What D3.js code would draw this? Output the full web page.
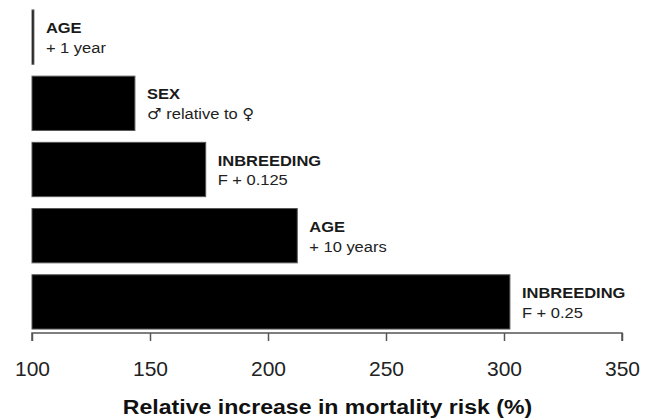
<!DOCTYPE html>
<html>
<head>
<meta charset="utf-8">
<script src="https://cdn.jsdelivr.net/npm/d3@7"></script>
<style>
  html, body { margin: 0; padding: 0; background: #fff; }
  text { font-family: "Liberation Sans", Arial, Helvetica, sans-serif; }
</style>
</head>
<body>
<svg id="chart" width="654" height="418"></svg>
<script>
// ---- data ----
const categories = ["AGE", "SEX", "INBREEDING", "AGE", "INBREEDING"];
const subLabels = ["+ 1 year", "\u2642 relative to \u2640", "F + 0.125", "+ 10 years", "F + 0.25"];
const values = [100.8, 143.6, 173.6, 212.4, 302.5];
const tickValues = [100, 150, 200, 250, 300, 350];
const axisTitle = "Relative increase in mortality risk (%)";

const svg = d3.select("#chart");
const x = d3.scaleLinear().domain([100, 350]).range([32, 622]);
const y = d3.scaleBand().domain(d3.range(categories.length)).range([4, 335])
  .paddingInner(0.18).paddingOuter(0.09);

const rows = categories.map((c, i) => ({ cat: c, sub: subLabels[i], v: values[i], i }));

svg.append("g").selectAll("rect").data(rows).join("rect")
  .attr("x", x(100))
  .attr("y", d => y(d.i))
  .attr("width", d => x(d.v) - x(100))
  .attr("height", y.bandwidth())
  .attr("fill", "#000")
  .attr("stroke", "#555")
  .attr("stroke-width", 1);

const lab = svg.append("g").selectAll("g").data(rows).join("g")
  .attr("transform", d => `translate(${x(d.v) + 12},${y(d.i) + y.bandwidth() / 2}) scale(1.1,1)`);
lab.append("text").attr("y", -4).attr("font-size", 15).attr("font-weight", "bold")
  .attr("fill", "#1a1a1a").text(d => d.cat);
const sub = lab.append("text").attr("y", 16).attr("font-size", 15).attr("fill", "#222");
sub.each(function(d) {
  const t = d3.select(this);
  // render gender symbols in a font with larger glyphs
  d.sub.split(/([\u2640\u2642])/).filter(s => s.length).forEach(part => {
    const sp = t.append("tspan").text(part);
    if (/[\u2640\u2642]/.test(part)) sp.attr("font-family", "DejaVu Sans").attr("font-size", 15);
  });
});

const axis = d3.axisBottom(x).tickValues(tickValues).tickSize(8).tickPadding(20)
  .tickFormat(d3.format("d"));
const gx = svg.append("g").attr("transform", "translate(0,333)").call(axis);
gx.select(".domain").attr("stroke", "#555").attr("stroke-width", 1.5)
  .attr("d", `M${x(100)},8V0H${x(350)}V8`);
gx.selectAll(".tick line").attr("stroke", "#555").attr("stroke-width", 1.5);
gx.selectAll(".tick text").attr("font-size", 21).attr("fill", "#222")
  .attr("font-family", "Liberation Sans, Arial, sans-serif");

svg.append("g").attr("transform", `translate(${(123 + 532) / 2},414) scale(1.1,1)`)
  .append("text")
  .attr("text-anchor", "middle").attr("font-size", 21).attr("font-weight", "bold")
  .attr("fill", "#111").text(axisTitle);
</script>
</body>
</html>
